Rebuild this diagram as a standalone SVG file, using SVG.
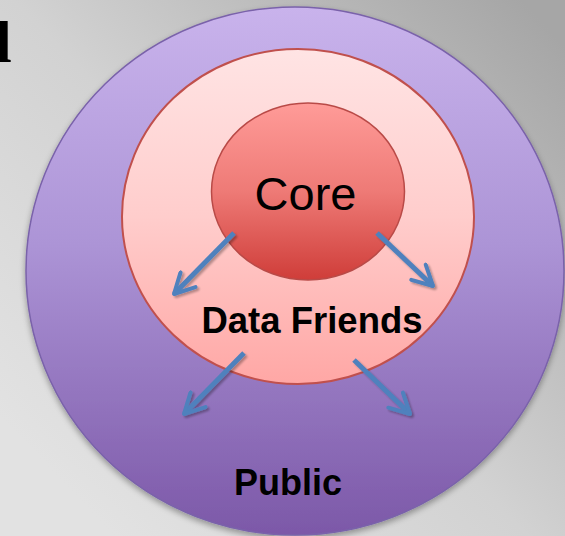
<svg xmlns="http://www.w3.org/2000/svg" width="565" height="536" viewBox="0 0 565 536">
  <defs>
    <linearGradient id="bg" gradientUnits="userSpaceOnUse" x1="60" y1="480" x2="540" y2="20">
      <stop offset="0" stop-color="#e2e2e2"/>
      <stop offset="0.45" stop-color="#d2d2d2"/>
      <stop offset="1" stop-color="#a6a6a6"/>
    </linearGradient>
    <linearGradient id="gPublic" x1="0" y1="0" x2="0" y2="1">
      <stop offset="0" stop-color="#c9b3ec"/>
      <stop offset="0.45" stop-color="#ac94d6"/>
      <stop offset="1" stop-color="#7c58a8"/>
    </linearGradient>
    <linearGradient id="gFriends" x1="0" y1="0" x2="0" y2="1">
      <stop offset="0" stop-color="#ffe4e4"/>
      <stop offset="0.5" stop-color="#ffcdcc"/>
      <stop offset="1" stop-color="#ffa7a5"/>
    </linearGradient>
    <linearGradient id="gCore" x1="0" y1="0" x2="0" y2="1">
      <stop offset="0" stop-color="#ff9b98"/>
      <stop offset="0.5" stop-color="#ee7a76"/>
      <stop offset="1" stop-color="#cf3d39"/>
    </linearGradient>
    <filter id="shadow" x="-10%" y="-10%" width="120%" height="125%">
      <feGaussianBlur in="SourceAlpha" stdDeviation="3"/>
      <feOffset dx="0" dy="3" result="b"/>
      <feComponentTransfer><feFuncA type="linear" slope="0.35"/></feComponentTransfer>
      <feMerge><feMergeNode/><feMergeNode in="SourceGraphic"/></feMerge>
    </filter>
    <filter id="arrowShadow" x="-30%" y="-30%" width="160%" height="160%">
      <feGaussianBlur in="SourceAlpha" stdDeviation="1"/>
      <feOffset dx="2" dy="2"/>
      <feComponentTransfer><feFuncA type="linear" slope="0.3"/></feComponentTransfer>
      <feMerge><feMergeNode/><feMergeNode in="SourceGraphic"/></feMerge>
    </filter>
    <marker id="chevron" viewBox="0 0 10 10" refX="9" refY="5" markerWidth="5" markerHeight="5" markerUnits="strokeWidth" orient="auto">
      <path d="M1,0.8 L9,5 L1,9.2" fill="none" stroke="#4f81bd" stroke-width="1.6" stroke-linecap="round" stroke-linejoin="round"/>
    </marker>
  </defs>
  <style>
    .lbl { font-family: "Liberation Sans", Arial, sans-serif; fill: #000; text-anchor: middle; }
    .arrow { fill: none; stroke: #4f81bd; stroke-width: 5; marker-end: url(#chevron); }
  </style>

  <!-- slide background -->
  <rect x="0" y="0" width="565" height="536" fill="url(#bg)"/>
  <!-- clipped title glyph at the left edge -->
  <text x="-22" y="62" font-family="'Liberation Serif', 'Times New Roman', serif" font-size="60" font-weight="bold" fill="#000">d</text>

  <g id="public">
    <ellipse cx="295" cy="271" rx="269" ry="264" fill="url(#gPublic)" stroke="#7a62aa" stroke-width="1.5" filter="url(#shadow)"/>
    <text class="lbl" x="288" y="495" font-size="36" font-weight="bold">Public</text>
  </g>

  <g id="data-friends">
    <ellipse cx="298" cy="216.5" rx="176" ry="167.5" fill="url(#gFriends)" stroke="#c0504d" stroke-width="2"/>
    <text class="lbl" x="312" y="333" font-size="36.5" font-weight="bold">Data Friends</text>
  </g>

  <g id="core">
    <ellipse cx="308" cy="191.5" rx="96.5" ry="88.5" fill="url(#gCore)" stroke="#b94a47" stroke-width="1.5"/>
    <text class="lbl" x="305.5" y="210" font-size="47">Core</text>
  </g>

  <g id="connectors" filter="url(#arrowShadow)">
    <line class="arrow" x1="234" y1="233" x2="174" y2="294"/>
    <line class="arrow" x1="377" y1="233" x2="433" y2="286"/>
    <line class="arrow" x1="244" y1="353" x2="184" y2="414"/>
    <line class="arrow" x1="354" y1="360" x2="410" y2="414"/>
  </g>
</svg>
